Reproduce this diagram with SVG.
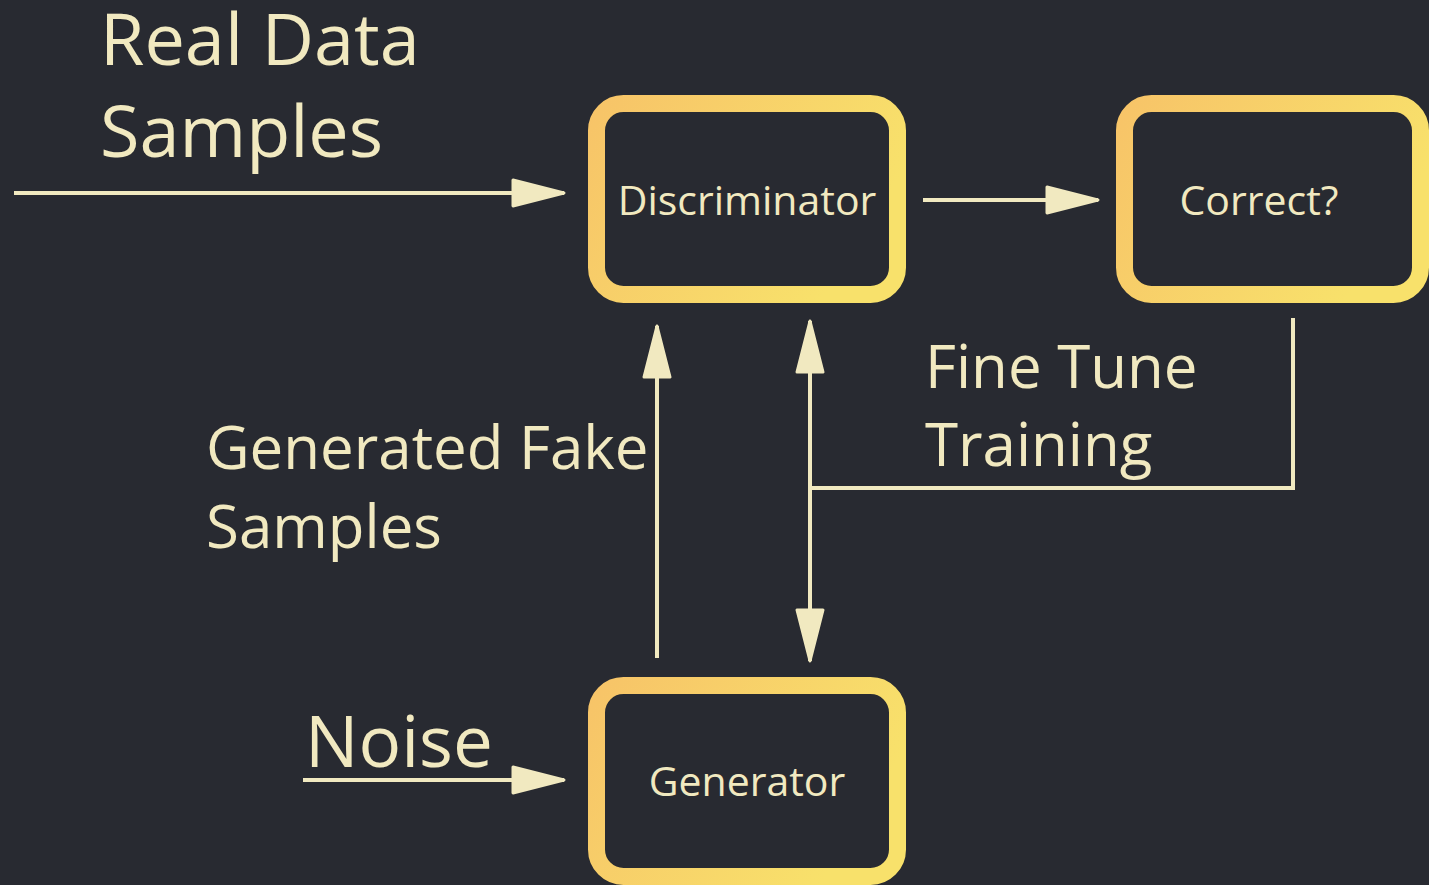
<svg xmlns="http://www.w3.org/2000/svg" width="1429" height="885" viewBox="0 0 1429 885">
<style>
.lbl{font-family:"Open Sans","Noto Sans",sans-serif;fill:#f1e9c0}
.big{font-size:72px}
.mid{font-size:60px}
.box{font-size:41px;text-anchor:middle}
.conn{stroke:#f1e9c0;stroke-width:4;fill:none}
.node rect{fill:#282a31;stroke-width:17}
</style>
<defs>
<linearGradient id="g" x1="0" y1="0" x2="1" y2="0.4">
<stop offset="0" stop-color="#f7c468"/>
<stop offset="1" stop-color="#f8e16b"/>
</linearGradient>
<marker id="ah" markerUnits="userSpaceOnUse" markerWidth="60" markerHeight="34" refX="53" refY="15" orient="auto-start-reverse" viewBox="0 0 60 34">
<path d="M2,2 L53,15 L2,28 z" fill="#f1e9c0" stroke="#f1e9c0" stroke-width="3" stroke-linejoin="round"/>
</marker>
</defs>
<rect width="1429" height="885" fill="#282a31"/>
<g id="connectors">
<line class="conn" x1="14" y1="193" x2="564" y2="193" marker-end="url(#ah)"/>
<line class="conn" x1="923" y1="200" x2="1098" y2="200" marker-end="url(#ah)"/>
<line class="conn" x1="657" y1="658" x2="657" y2="326" marker-end="url(#ah)"/>
<line class="conn" x1="810" y1="321" x2="810" y2="661" marker-start="url(#ah)" marker-end="url(#ah)"/>
<polyline class="conn" points="1293,318 1293,488 810,488"/>
<line class="conn" x1="303" y1="780" x2="564" y2="780" marker-end="url(#ah)"/>
</g>
<g id="discriminator" class="node">
<rect x="596.5" y="103.5" width="301" height="191" rx="27" stroke="url(#g)"/>
<text class="lbl box" x="747" y="215">Discriminator</text>
</g>
<g id="correct" class="node">
<rect x="1124.5" y="103.5" width="296" height="191" rx="27" stroke="url(#g)"/>
<text class="lbl box" x="1259" y="215">Correct?</text>
</g>
<g id="generator" class="node">
<rect x="596.5" y="685.5" width="301" height="191" rx="27" stroke="url(#g)"/>
<text class="lbl box" x="747" y="796">Generator</text>
</g>
<g id="labels">
<text class="lbl big" x="100" y="65">Real Data</text>
<text class="lbl big" x="100" y="157">Samples</text>
<text class="lbl mid" x="925" y="388">Fine Tune</text>
<text class="lbl mid" x="925" y="466">Training</text>
<text class="lbl mid" x="206" y="469">Generated Fake</text>
<text class="lbl mid" x="206" y="548">Samples</text>
<text class="lbl" x="305" y="767" font-size="71">Noise</text>
</g>
</svg>
